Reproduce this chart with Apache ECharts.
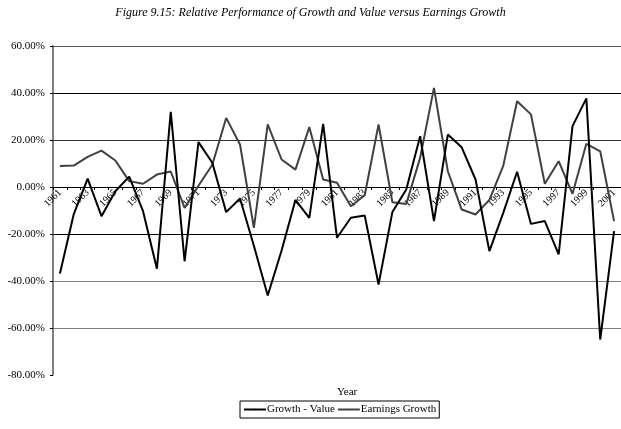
<!DOCTYPE html>
<html>
<head>
<meta charset="utf-8">
<script src="https://cdn.jsdelivr.net/npm/echarts@6/dist/echarts.min.js"></script>
<style>
  html, body { margin: 0; padding: 0; background: #fff; }
</style>
</head>
<body>
<div id="chart" style="width:621px;height:429px;"></div>
<script>
var years = []
for (var y = 1961; y <= 2001; y++) years.push(String(y))

// values in percent
var growthValue = [
  -36.8, -11.5, 3.6, -12.4, -1.8, 4.4, -10.3, -34.8, 32.0, -31.6,
  19.1, 10.3, -10.7, -4.9, -25.0, -46.2, -27.0, -5.5, -13.1, 26.9,
  -21.6, -13.1, -12.1, -41.5, -10.6, -1.1, 21.6, -14.5, 22.3, 16.9,
  3.2, -27.3, -11.0, 6.5, -15.7, -14.5, -28.7, 25.9, 37.7, -64.9,
  -18.8
]
var earningsGrowth = [
  8.9, 9.1, 12.8, 15.5, 11.3, 2.5, 1.4, 5.3, 6.6, -8.9,
  0.5, 9.5, 29.4, 18.1, -17.4, 26.6, 11.7, 7.4, 25.5, 3.2,
  1.8, -8.2, -3.5, 26.6, -6.5, -7.2, 12.4, 42.2, 6.7, -9.6,
  -11.7, -5.5, 9.0, 36.5, 30.9, 1.4, 11.0, -2.9, 18.4, 15.2,
  -14.5
]

var serif = '"Liberation Serif", "DejaVu Serif", serif'

var chart = echarts.init(document.getElementById('chart'))
var option = {
  animation: false,
  title: [{
    text: 'Figure 9.15: Relative Performance of Growth and Value versus Earnings Growth',
    left: 'center',
    top: 2,
    textStyle: { fontFamily: serif, fontSize: 12, fontStyle: 'italic', fontWeight: 'normal', color: '#000' }
  }, {
    text: 'Year',
    left: 332,
    top: 382,
    textStyle: { fontFamily: serif, fontSize: 11, fontWeight: 'normal', color: '#000' }
  }],
  legend: {
    left: 240,
    top: 401,
    orient: 'horizontal',
    borderColor: '#000',
    borderWidth: 1,
    padding: [3, 3, 3, 3],
    itemGap: 2,
    itemWidth: 22,
    itemHeight: 2,
    textStyle: { fontFamily: serif, fontSize: 11, color: '#000', padding: [0, 0, 0, -4] },
    data: ['Growth - Value', 'Earnings Growth']
  },
  grid: { left: 53, top: 46, width: 574, height: 329 },
  xAxis: {
    type: 'category',
    data: years,
    boundaryGap: true,
    offset: -188,
    axisLine: { onZero: false, lineStyle: { color: '#000', width: 1 } },
    axisTick: { show: true, interval: 0, length: 3, lineStyle: { color: '#000' } },
    axisLabel: {
      interval: 1,
      rotate: 45,
      margin: 4,
      fontFamily: serif,
      fontSize: 10,
      color: '#000'
    },
    splitLine: { show: false }
  },
  yAxis: {
    type: 'value',
    min: -80,
    max: 60,
    interval: 20,
    axisLine: { show: true, lineStyle: { color: '#555', width: 1.5 } },
    axisTick: { show: true, length: 3, lineStyle: { color: '#000' } },
    axisLabel: {
      margin: 8,
      fontFamily: serif,
      fontSize: 11,
      color: '#000',
      formatter: function (v) { return v.toFixed(2) + '%' }
    },
    splitLine: {
      show: true,
      lineStyle: {
        width: 1,
        color: ['rgba(0,0,0,0)', '#808080', '#808080', '#000', '#000', '#333', '#000', '#555']
      }
    }
  },
  series: [{
    name: 'Growth - Value',
    type: 'line',
    data: growthValue,
    symbol: 'none',
    lineStyle: { color: '#000', width: 2 },
    itemStyle: { color: '#000' },
    z: 3
  }, {
    name: 'Earnings Growth',
    type: 'line',
    data: earningsGrowth,
    symbol: 'none',
    lineStyle: { color: '#404040', width: 2 },
    itemStyle: { color: '#404040' },
    z: 2
  }]
}
chart.setOption(option)
</script>
</body>
</html>
